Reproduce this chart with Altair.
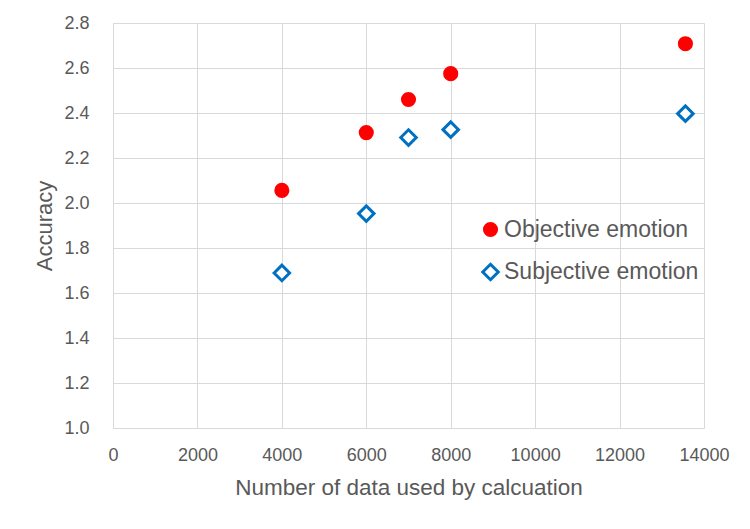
import altair as alt
import pandas as pd

series_names = ["Objective emotion", "Subjective emotion"]
data_counts = [4000, 6000, 7000, 8000, 13560]
objective_acc = [2.056, 2.313, 2.460, 2.575, 2.708]
subjective_acc = [1.689, 1.953, 2.291, 2.326, 2.397]
x_ticks = [0, 2000, 4000, 6000, 8000, 10000, 12000, 14000]
y_ticks = [1.0, 1.2, 1.4, 1.6, 1.8, 2.0, 2.2, 2.4, 2.6, 2.8]

rows = []
for n, v in zip(data_counts, objective_acc):
    rows.append({"n": n, "acc": v, "series": series_names[0]})
for n, v in zip(data_counts, subjective_acc):
    rows.append({"n": n, "acc": v, "series": series_names[1]})
df = pd.DataFrame(rows)

FONT = "Liberation Sans"
TXT = "#595959"
GRID = "#D9D9D9"

legend = alt.Legend(
    title=None, orient="none", legendX=366, legendY=195,
    labelFont=FONT, labelFontSize=23, labelColor=TXT, labelLimit=400,
    rowPadding=15.5, symbolStrokeWidth=3, symbolOpacity=1, labelOffset=2,
)

chart = alt.Chart(df).mark_point(opacity=1, strokeWidth=3).encode(
    x=alt.X(
        "n:Q",
        scale=alt.Scale(domain=[0, 14000], nice=False, zero=True),
        axis=alt.Axis(
            values=x_ticks, format="d", grid=True, gridColor=GRID,
            domainColor=GRID, ticks=False, tickSize=0, labelPadding=18,
            labelFont=FONT, labelFontSize=18, labelColor=TXT, labelOverlap=False,
            labelFlush=False,
            titleFont=FONT, titleFontSize=22.5, titleColor=TXT,
            titleFontWeight="normal", titleBaseline="alphabetic", titleY=66,
        ),
        title="Number of data used by calcuation",
    ),
    y=alt.Y(
        "acc:Q",
        scale=alt.Scale(domain=[1.0, 2.8], nice=False, zero=False),
        axis=alt.Axis(
            values=y_ticks, format=".1f", grid=True, gridColor=GRID,
            domainColor=GRID, ticks=False, tickSize=0, labelPadding=24,
            labelFont=FONT, labelFontSize=18, labelColor=TXT, labelOverlap=False,
            labelFlush=False,
            titleFont=FONT, titleFontSize=22, titleColor=TXT,
            titleFontWeight="normal", titleAngle=270,
            titleBaseline="alphabetic", titleX=-62,
        ),
        title="Accuracy",
    ),
    shape=alt.Shape("series:N", scale=alt.Scale(domain=series_names, range=["circle", "diamond"]), legend=legend),
    stroke=alt.Stroke("series:N", scale=alt.Scale(domain=series_names, range=["#FF0000", "#0070C0"]), legend=legend),
    fill=alt.Fill("series:N", scale=alt.Scale(domain=series_names, range=["#FF0000", "#FFFFFF"]), legend=legend),
    size=alt.Size("series:N", scale=alt.Scale(domain=series_names, range=[147, 240]), legend=legend),
).properties(
    width=591, height=405,
    autosize=alt.AutoSizeParams(type="none"),
    padding={"left": 105, "top": 15, "right": 30, "bottom": 90},
    background="white",
).configure_view(strokeWidth=0)

chart.save("out.html", embed_options={"renderer": "svg", "actions": False})
